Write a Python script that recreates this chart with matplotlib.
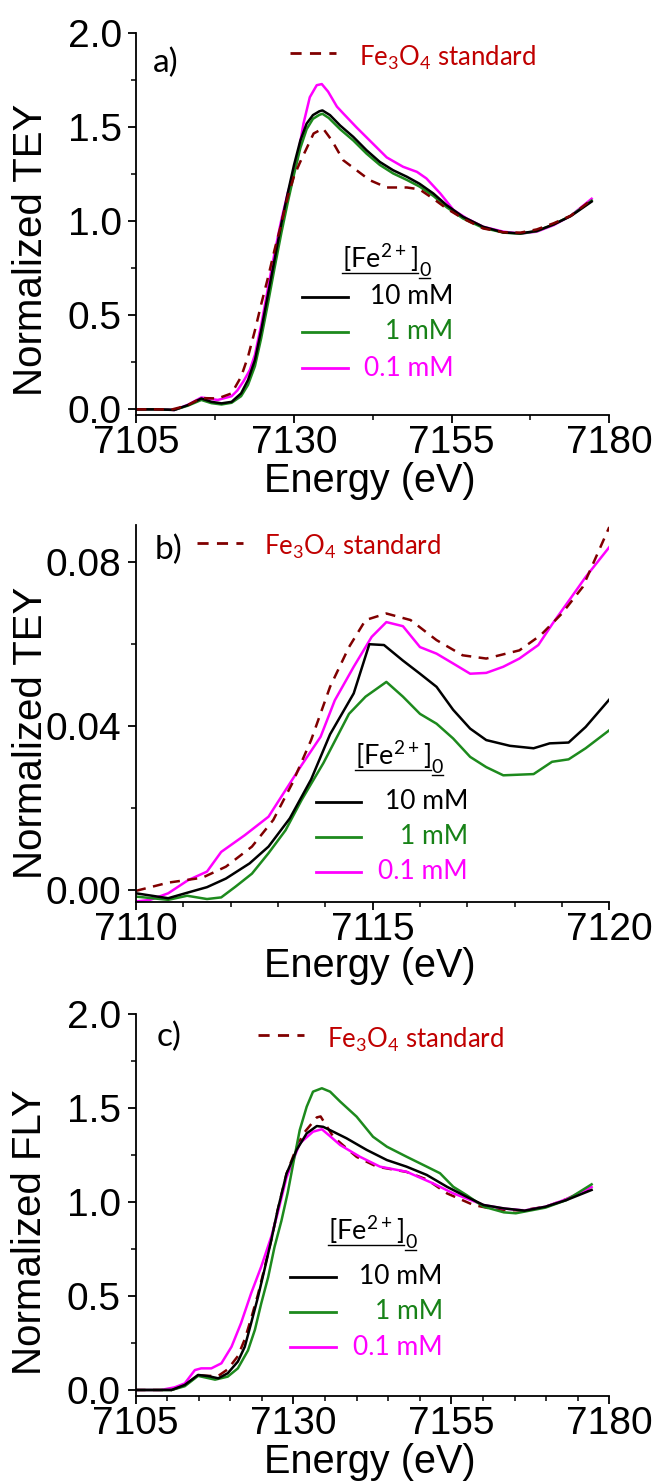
"""Fe K-edge XANES (TEY / FLY) for three [Fe2+]0 levels vs. Fe3O4 standard."""

import matplotlib

matplotlib.use("Agg")
import matplotlib.pyplot as plt
from matplotlib.lines import Line2D
from matplotlib.ticker import MultipleLocator, FormatStrFormatter

W, H = 658, 1483

# ---- panel a) TEY, full edge ----
a_e_10 = [7105, 7108, 7111, 7113.2, 7115.3, 7116.9, 7118.5, 7120.1, 7121.6, 7122.7, 7123.8, 7124.8,
          7125.9, 7126.9, 7128.0, 7129.0, 7130.0, 7131.0, 7132.0, 7133.0, 7134.0, 7134.5, 7135.7,
          7137.3, 7139.4, 7141.5, 7143.6, 7145.7, 7147.9, 7149.9, 7152.1, 7154.2, 7156.8, 7160.0,
          7163.2, 7165.9, 7168.5, 7171.2, 7173.9, 7177.2]
a_v_10 = [0.0, 0.0, -0.003, 0.023, 0.058, 0.040, 0.032, 0.040, 0.085, 0.156, 0.262, 0.422,
          0.617, 0.794, 0.990, 1.150, 1.300, 1.430, 1.520, 1.565, 1.585, 1.590, 1.565,
          1.510, 1.449, 1.378, 1.316, 1.272, 1.237, 1.200, 1.148, 1.086, 1.024, 0.971,
          0.941, 0.936, 0.949, 0.984, 1.028, 1.105]
a_e_1 = [7105, 7108, 7111, 7113.2, 7115.3, 7116.9, 7118.5, 7120.1, 7121.6, 7122.7, 7123.8, 7124.8,
         7125.9, 7126.9, 7128.0, 7129.0, 7130.0, 7131.0, 7132.0, 7133.0, 7134.0, 7134.5, 7135.5,
         7137.3, 7139.4, 7141.5, 7143.6, 7145.7, 7147.9, 7149.9, 7152.1, 7154.2, 7156.8, 7160.0,
         7163.2, 7165.9, 7168.5, 7171.2, 7173.9, 7177.2]
a_v_1 = [0.0, 0.0, -0.003, 0.020, 0.050, 0.033, 0.026, 0.035, 0.070, 0.130, 0.230, 0.380,
         0.570, 0.750, 0.940, 1.100, 1.250, 1.390, 1.490, 1.545, 1.566, 1.572, 1.550,
         1.490, 1.430, 1.360, 1.300, 1.255, 1.220, 1.185, 1.135, 1.075, 1.015, 0.965,
         0.940, 0.934, 0.948, 0.984, 1.030, 1.110]
a_e_01 = [7105, 7110, 7111, 7113.2, 7115.3, 7116.9, 7117.9, 7120.1, 7121.0, 7122.0, 7123.0, 7123.8,
          7124.8, 7125.9, 7126.9, 7128.0, 7129.0, 7130.4, 7131.5, 7132.5, 7133.6, 7134.4, 7135.4,
          7136.8, 7137.8, 7139.9, 7142.0, 7144.7, 7147.3, 7149.5, 7151.0, 7153.2, 7155.3, 7157.4,
          7160.0, 7163.2, 7165.9, 7168.5, 7171.2, 7173.9, 7177.2]
a_v_01 = [0.0, 0.0, -0.004, 0.025, 0.063, 0.055, 0.050, 0.070, 0.100, 0.150, 0.210, 0.290,
          0.450, 0.650, 0.830, 1.010, 1.150, 1.310, 1.520, 1.660, 1.724, 1.730, 1.690,
          1.610, 1.574, 1.500, 1.430, 1.340, 1.290, 1.263, 1.228, 1.148, 1.060, 1.015,
          0.971, 0.945, 0.935, 0.945, 0.980, 1.030, 1.120]
a_e_std = [7105, 7110.7, 7113.0, 7115.3, 7117.9, 7120.1, 7121.6, 7122.7, 7123.8, 7124.8, 7125.9,
           7126.9, 7128.0, 7129.0, 7130.0, 7130.9, 7133.1, 7134.6, 7136.0, 7137.8, 7139.9, 7142.0,
           7144.7, 7147.9, 7149.9, 7152.1, 7154.2, 7156.8, 7160.0, 7163.2, 7165.9, 7168.5, 7171.2,
           7173.9, 7177.2]
a_v_std = [0.0, 0.0, 0.020, 0.060, 0.058, 0.085, 0.173, 0.280, 0.420, 0.560, 0.705,
           0.847, 0.990, 1.130, 1.240, 1.310, 1.467, 1.494, 1.430, 1.325, 1.272, 1.219,
           1.180, 1.180, 1.170, 1.120, 1.068, 1.015, 0.962, 0.942, 0.940, 0.957, 0.990,
           1.030, 1.115]

# ---- panel b) TEY, pre-edge ----
b_e_10 = [7110.0, 7110.68, 7111.04, 7111.5, 7111.9, 7112.4, 7112.8, 7113.25, 7113.7, 7114.1, 7114.6,
          7114.93, 7115.24, 7115.64, 7116.0, 7116.35, 7116.7, 7117.06, 7117.4, 7117.9, 7118.4,
          7118.74, 7119.14, 7119.5, 7120.0]
b_v_10 = [-0.0008, -0.0020, -0.0008, 0.0007, 0.0028, 0.0065, 0.0106, 0.0175, 0.0270, 0.0380, 0.0480,
          0.0600, 0.0598, 0.0560, 0.0528, 0.0496, 0.0440, 0.0394, 0.0366, 0.0352, 0.0346,
          0.0358, 0.0360, 0.0398, 0.0465]
b_e_1 = [7110.0, 7110.68, 7111.08, 7111.5, 7111.8, 7112.1, 7112.45, 7112.8, 7113.16, 7113.5, 7113.96,
         7114.5, 7114.85, 7115.29, 7115.64, 7116.0, 7116.35, 7116.7, 7117.06, 7117.4, 7117.76,
         7118.4, 7118.79, 7119.14, 7119.5, 7120.0]
b_v_1 = [-0.0016, -0.0024, -0.0014, -0.0022, -0.0018, 0.0008, 0.0040, 0.0090, 0.0146, 0.0220, 0.0310,
         0.0430, 0.0472, 0.0508, 0.0472, 0.0430, 0.0406, 0.0370, 0.0325, 0.0300, 0.0280,
         0.0283, 0.0313, 0.0319, 0.0346, 0.0390]
b_e_01 = [7110.0, 7110.3, 7110.68, 7111.1, 7111.5, 7111.8, 7112.3, 7112.8, 7113.16, 7113.5, 7113.9,
          7114.2, 7114.6, 7114.98, 7115.29, 7115.64, 7116.0, 7116.35, 7116.7, 7117.06, 7117.4,
          7117.76, 7118.1, 7118.5, 7118.8, 7119.2, 7119.5, 7120.0]
b_v_01 = [-0.0028, -0.0024, -0.0008, 0.0024, 0.0045, 0.0093, 0.0134, 0.0179, 0.0244, 0.0305, 0.0374,
          0.0463, 0.0545, 0.0618, 0.0654, 0.0644, 0.0593, 0.0577, 0.0553, 0.0528, 0.0530,
          0.0545, 0.0565, 0.0598, 0.0650, 0.0715, 0.0764, 0.0837]
b_e_std = [7110.0, 7110.68, 7111.4, 7111.9, 7112.45, 7112.9, 7113.3, 7113.7, 7114.1, 7114.5, 7114.85,
           7115.29, 7115.8, 7116.35, 7116.9, 7117.4, 7118.1, 7118.55, 7119.0, 7119.44, 7120.0]
b_v_std = [-0.0002, 0.0018, 0.0030, 0.0057, 0.0106, 0.0171, 0.0260, 0.0366, 0.0496, 0.0593, 0.0659,
           0.0675, 0.0659, 0.0610, 0.0573, 0.0565, 0.0585, 0.0622, 0.0675, 0.0740, 0.0886]

# ---- panel c) FLY, full edge ----
c_e_10 = [7105, 7110.7, 7112.8, 7114.9, 7116.5, 7118.1, 7119.6, 7121.2, 7122.3, 7123.3, 7124.4,
          7125.4, 7126.5, 7127.5, 7128.9, 7130.5, 7132.1, 7133.7, 7134.7, 7136.3, 7138.4, 7141.6,
          7144.8, 7147.9, 7151.1, 7154.3, 7157.4, 7160.1, 7163.3, 7166.6, 7169.9, 7173.2, 7177.2]
c_v_10 = [0.0, 0.0, 0.027, 0.080, 0.074, 0.062, 0.089, 0.151, 0.230, 0.355, 0.496,
          0.638, 0.798, 0.957, 1.150, 1.277, 1.365, 1.404, 1.400, 1.374, 1.339, 1.277,
          1.223, 1.188, 1.144, 1.081, 1.028, 0.984, 0.966, 0.954, 0.975, 1.010, 1.064]
c_e_1 = [7105, 7110.7, 7112.8, 7114.9, 7117.6, 7119.6, 7121.2, 7122.8, 7123.9, 7124.9, 7126.0,
         7127.0, 7128.1, 7129.1, 7130.0, 7131.0, 7132.1, 7133.1, 7134.5, 7135.8, 7137.4, 7140.0,
         7142.6, 7144.8, 7147.9, 7151.1, 7153.2, 7155.3, 7157.4, 7160.1, 7163.3, 7165.2, 7169.9,
         7173.2, 7177.2]
c_v_1 = [0.0, 0.0, 0.020, 0.075, 0.055, 0.071, 0.115, 0.210, 0.320, 0.460, 0.600,
         0.760, 0.900, 1.050, 1.210, 1.383, 1.507, 1.587, 1.605, 1.587, 1.534, 1.454,
         1.347, 1.294, 1.241, 1.188, 1.153, 1.081, 1.037, 0.975, 0.945, 0.940, 0.970,
         1.010, 1.094]
c_e_01 = [7105, 7109.0, 7111.2, 7112.8, 7114.4, 7115.4, 7117.0, 7118.6, 7120.2, 7121.7, 7123.3,
          7124.9, 7126.5, 7127.5, 7128.9, 7131.0, 7133.1, 7134.5, 7135.8, 7137.4, 7140.5, 7143.7,
          7147.9, 7152.1, 7155.3, 7160.1, 7163.3, 7166.6, 7169.9, 7173.2, 7177.2]
c_v_01 = [0.0, 0.0, 0.014, 0.035, 0.106, 0.115, 0.115, 0.142, 0.230, 0.355, 0.514,
          0.656, 0.816, 0.940, 1.130, 1.312, 1.374, 1.387, 1.350, 1.303, 1.241, 1.188,
          1.161, 1.099, 1.046, 0.984, 0.965, 0.955, 0.975, 1.015, 1.080]
c_e_std = [7105, 7110.7, 7112.8, 7114.9, 7116.5, 7118.1, 7119.6, 7121.2, 7122.3, 7123.3, 7124.4,
           7125.4, 7126.5, 7127.5, 7128.9, 7130.5, 7131.6, 7133.7, 7134.3, 7136.3, 7140.0, 7143.2,
           7147.9, 7151.1, 7154.3, 7158.5, 7162.0, 7166.0, 7170.0, 7173.2, 7177.2]
c_v_std = [0.0, 0.0, 0.025, 0.078, 0.075, 0.075, 0.110, 0.180, 0.270, 0.380, 0.510,
           0.645, 0.800, 0.955, 1.150, 1.290, 1.365, 1.450, 1.455, 1.347, 1.240, 1.188,
           1.160, 1.120, 1.046, 0.984, 0.960, 0.955, 0.975, 1.015, 1.075]

SERIES = ["10 mM", "1 mM", "0.1 mM"]
COLORS = {"10 mM": "#000000", "1 mM": "#1d8a1d", "0.1 mM": "#ff00ff"}
TEXT_COLORS = {"10 mM": "#000000", "1 mM": "#178217", "0.1 mM": "#ff00ff"}
STD_COLOR = "#800000"
STD_TEXT = "#c00000"

AX_FONT = "Liberation Sans"
LEG_FONT = "Lato"

plt.rcParams["mathtext.fontset"] = "custom"
plt.rcParams["mathtext.rm"] = LEG_FONT
plt.rcParams["mathtext.default"] = "rm"


def fx(x):
    return x / W


def fy(y):
    return 1 - y / H


def make_axes(fig, left, right, top, bottom):
    return fig.add_axes([fx(left), fy(bottom), (right - left) / W, (bottom - top) / H])


def style_axes(ax, xlim, ylim, xmaj, xmin, xoff, ymaj, ymin, yfmt, ylabel, ylab_y):
    ax.set_xlim(*xlim)
    ax.set_ylim(*ylim)
    ax.xaxis.set_major_locator(MultipleLocator(xmaj, offset=xoff))
    ax.xaxis.set_minor_locator(MultipleLocator(xmin, offset=xoff))
    ax.yaxis.set_major_locator(MultipleLocator(ymaj))
    ax.yaxis.set_minor_locator(MultipleLocator(ymin))
    ax.yaxis.set_major_formatter(FormatStrFormatter(yfmt))
    for side in ("top", "right"):
        ax.spines[side].set_visible(False)
    for side in ("left", "bottom"):
        ax.spines[side].set_linewidth(1.3)
    ax.tick_params(which="major", direction="out", length=5.5, width=1.3)
    ax.tick_params(which="minor", direction="out", length=3.5, width=1.1)
    ax.tick_params(axis="x", which="major", pad=2)
    ax.tick_params(axis="y", which="major", pad=5)
    for lab in ax.get_xticklabels() + ax.get_yticklabels():
        lab.set_fontfamily(AX_FONT)
        lab.set_fontsize(28)
    ax.text(0.494, -0.172, "Energy (eV)", transform=ax.transAxes, ha="center", va="center",
            fontsize=28.5, family=AX_FONT)
    ax.text(-0.222, ylab_y, ylabel, transform=ax.transAxes, ha="center", va="center",
            rotation=90, fontsize=29, family=AX_FONT)


def draw_legend(fig, renderer, tag, tag_xy, std_line, std_text_xy, head_xy, line_x, row_y, text_right):
    fig.text(fx(tag_xy[0]), fy(tag_xy[1]), tag, ha="left", va="center", fontsize=24, family=LEG_FONT)
    fig.add_artist(Line2D([fx(std_line[0]), fx(std_line[1])], [fy(std_line[2])] * 2,
                          color=STD_COLOR, lw=2.0, dashes=(4, 3)))
    fig.text(fx(std_text_xy[0]), fy(std_text_xy[1]), r"Fe$_3$O$_4$ standard", ha="left", va="center",
             fontsize=18.5, family=LEG_FONT, color=STD_TEXT)

    # underlined [Fe2+]0 header
    head = fig.text(fx(head_xy[0]), fy(head_xy[1]), r"[Fe$^{2+}$]", ha="left", va="center",
                    fontsize=19.5, family=LEG_FONT)
    bb = head.get_window_extent(renderer)
    sub = fig.text((bb.x1 + 1) / W, (bb.y0 + 3) / H, "0", ha="left", va="center",
                   fontsize=14, family=LEG_FONT)
    sb = sub.get_window_extent(renderer)
    fig.add_artist(Line2D([bb.x0 / W, bb.x1 / W], [(bb.y0 + 1) / H] * 2, color="black", lw=1.0))
    fig.add_artist(Line2D([sb.x0 / W, sb.x1 / W], [(sb.y0 + 1) / H] * 2, color="black", lw=1.0))

    for name, y in zip(SERIES, row_y):
        fig.add_artist(Line2D([fx(line_x[0]), fx(line_x[1])], [fy(y)] * 2, color=COLORS[name], lw=2.0))
        fig.text(fx(text_right), fy(y), name, ha="right", va="center", fontsize=19,
                 family=LEG_FONT, color=TEXT_COLORS[name])


fig = plt.figure(figsize=(W / 100, H / 100), dpi=100)
renderer = fig.canvas.get_renderer()

# a)
ax_a = make_axes(fig, 136.4, 609.3, 33.3, 415.0)
ax_a.plot(a_e_01, a_v_01, color=COLORS["0.1 mM"], lw=1.8)
ax_a.plot(a_e_1, a_v_1, color=COLORS["1 mM"], lw=1.8)
ax_a.plot(a_e_10, a_v_10, color=COLORS["10 mM"], lw=1.8)
ax_a.plot(a_e_std, a_v_std, color=STD_COLOR, lw=1.8, dashes=(4, 3))
style_axes(ax_a, (7105, 7180), (-0.03, 2.0), 25, 12.5, 5, 0.5, 0.25, "%.1f", "Normalized TEY", 0.432)
draw_legend(fig, renderer, "a)", (153, 63), (289.5, 335.7, 53.3), (358.8, 58), (342, 258),
            (302, 347.5), (296.7, 331.7, 368.3), 453.2)

# b)
ax_b = make_axes(fig, 136.0, 609.3, 525.0, 901.7)
ax_b.plot(b_e_01, b_v_01, color=COLORS["0.1 mM"], lw=1.8)
ax_b.plot(b_e_1, b_v_1, color=COLORS["1 mM"], lw=1.8)
ax_b.plot(b_e_10, b_v_10, color=COLORS["10 mM"], lw=1.8)
ax_b.plot(b_e_std, b_v_std, color=STD_COLOR, lw=1.8, dashes=(4, 3))
style_axes(ax_b, (7110, 7120), (-0.00285, 0.0891), 5, 1, 0, 0.04, 0.02, "%.2f", "Normalized TEY", 0.449)
draw_legend(fig, renderer, "b)", (155, 550), (197, 243, 542.7), (264.4, 546.7), (354.6, 755),
            (315.6, 361), (801.7, 836.7, 871.7), 468)

# c)
ax_c = make_axes(fig, 135.5, 609.3, 1014.0, 1396.0)
ax_c.plot(c_e_std, c_v_std, color=STD_COLOR, lw=1.8, dashes=(4, 3))
ax_c.plot(c_e_01, c_v_01, color=COLORS["0.1 mM"], lw=1.8)
ax_c.plot(c_e_1, c_v_1, color=COLORS["1 mM"], lw=1.8)
ax_c.plot(c_e_10, c_v_10, color=COLORS["10 mM"], lw=1.8)
style_axes(ax_c, (7105, 7180), (-0.032, 2.0), 25, 5, 5, 0.5, 0.25, "%.1f", "Normalized FLY", 0.43)
draw_legend(fig, renderer, "c)", (157, 1036.7), (258, 304, 1035), (327.3, 1040), (328, 1230),
            (290, 335.7), (1276.7, 1311.7, 1347.3), 442.7)

fig.savefig("out.png", dpi=100)
